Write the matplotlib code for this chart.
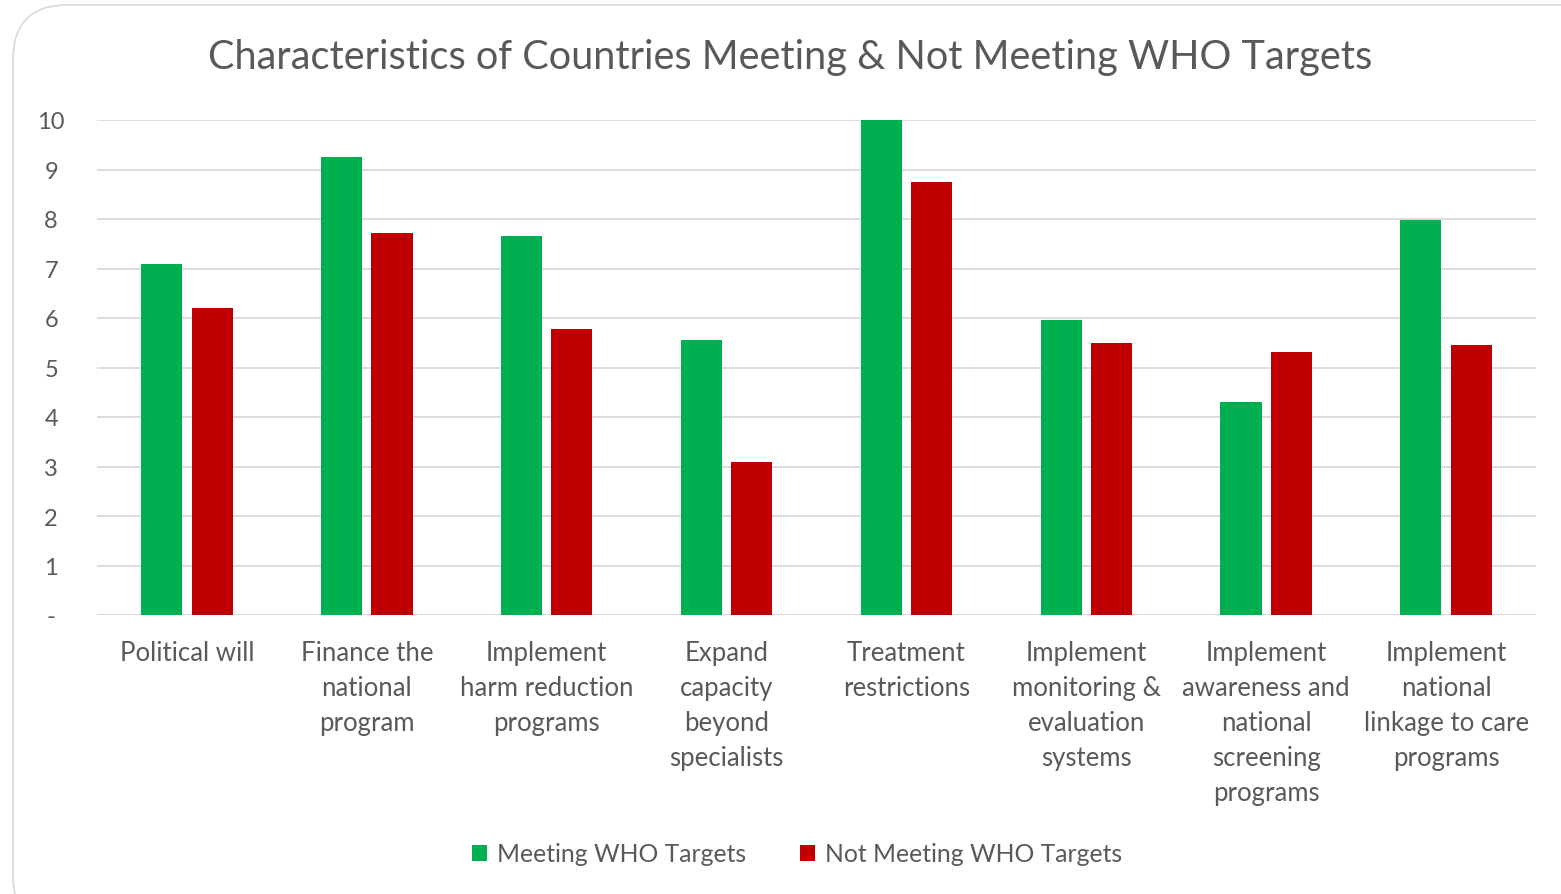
import numpy as np
import matplotlib.pyplot as plt
from matplotlib.patches import FancyBboxPatch

# Data
categories = ['Political will', 'Finance the\nnational\nprogram', 'Implement\nharm reduction\nprograms',
              'Expand\ncapacity\nbeyond\nspecialists', 'Treatment\nrestrictions',
              'Implement\nmonitoring &\nevaluation\nsystems',
              'Implement\nawareness and\nnational\nscreening\nprograms',
              'Implement\nnational\nlinkage to care\nprograms']
meeting = [7.1, 9.25, 7.65, 5.55, 10.0, 5.95, 4.3, 7.98]
not_meeting = [6.2, 7.72, 5.77, 3.1, 8.74, 5.5, 5.32, 5.45]
y_ticks = [0, 1, 2, 3, 4, 5, 6, 7, 8, 9, 10]
y_labels = ['-', '1', '2', '3', '4', '5', '6', '7', '8', '9', '10']

green = '#00B050'
red = '#C00000'
text_col = '#595959'
grid_col = '#D9D9D9'

plt.rcParams['font.family'] = ['Lato', 'DejaVu Sans']

W, H = 1561, 895
fig = plt.figure(figsize=(W / 100, H / 100), dpi=100)

# rounded chart frame (runs off the right and bottom edges)
frame = FancyBboxPatch((13 / W, -0.04), 1.05, 1 - 6 / H + 0.04,
                       boxstyle='round,pad=0,rounding_size=0.035',
                       transform=fig.transFigure, facecolor='none',
                       edgecolor='#D9D9D9', linewidth=1.2, mutation_aspect=W / H, zorder=-1)
fig.patches.append(frame)

ax = fig.add_axes([97 / W, 1 - 616 / H, (1536 - 97) / W, (616 - 121) / H])
ax.set_facecolor('none')

x = np.arange(len(categories))
bw = 0.228
off = 0.14
ax.bar(x - off, meeting, bw, color=green, label='Meeting WHO Targets', zorder=3)
ax.bar(x + off, not_meeting, bw, color=red, label='Not Meeting WHO Targets', zorder=3)

ax.set_xlim(-0.5, len(categories) - 0.5)
ax.set_ylim(0, 10)
ax.set_yticks(y_ticks)
ax.set_yticklabels(y_labels)
ax.yaxis.grid(True, color=grid_col, linewidth=1.3, zorder=0)
ax.set_xticks(x)
ax.set_xticklabels(categories, linespacing=1.5, fontsize=18.5)
ax.tick_params(axis='both', length=0, colors=text_col)
ax.tick_params(axis='y', labelsize=17, pad=33)
ax.tick_params(axis='x', pad=18)
for lbl in ax.get_yticklabels():
    lbl.set_horizontalalignment('center')
for s in ax.spines.values():
    s.set_visible(False)
ax.axhline(0, color=grid_col, linewidth=1.3, zorder=1)

fig.text(790 / W, 1 - 57 / H, 'Characteristics of Countries Meeting & Not Meeting WHO Targets',
         ha='center', va='center', fontsize=28.6, color=text_col)

leg = fig.legend(loc='center', bbox_to_anchor=(797 / W, 1 - 855 / H), ncol=2, frameon=False,
                 fontsize=17.8, labelcolor=text_col, handlelength=0.6, handleheight=0.6,
                 handletextpad=0.4, columnspacing=2.2)

fig.savefig('out.png', dpi=100)
